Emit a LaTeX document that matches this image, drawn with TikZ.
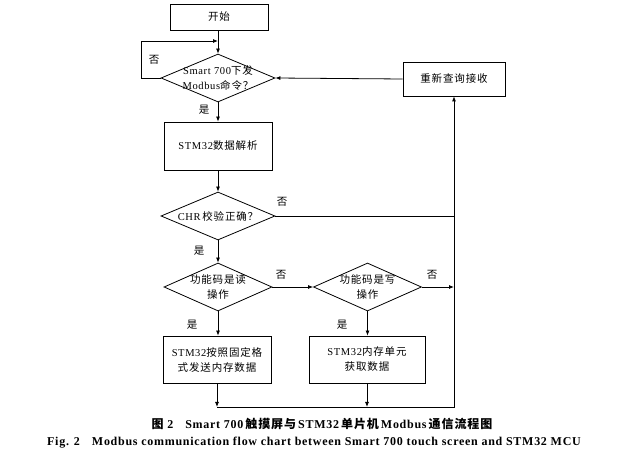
\documentclass[tikz,border=0pt]{standalone}
\usepackage{fontspec}
\setmainfont[LetterSpace=6]{Liberation Serif}
\newfontfamily\cjk[LetterSpace=8]{Noto Sans CJK SC}
\newcommand\zh[1]{{\cjk #1}}
\usetikzlibrary{shapes.geometric,arrows.meta}
\begin{document}
\begin{tikzpicture}[x=1pt,y=-1pt,
  line width=0.8pt,
  txt/.style={font=\fontsize{10.5}{15}\selectfont, align=center, inner sep=0pt},
  box/.style={draw, rectangle, inner sep=0pt, minimum width=#1, minimum height=48pt},
  dia/.style={draw, diamond, inner sep=0pt, minimum width=#1, minimum height=48pt},
  arr/.style={-{Latex[length=5pt,width=4pt]}},
  lab/.style={font=\fontsize{10.5}{12}\selectfont, inner sep=0pt}]
\useasboundingbox (0,0) rectangle (641,454);
% nodes
\node[box=98pt, minimum height=26pt] (start) at (219,17) {};
\node[txt] at (start) {\zh{开始}};
\node[dia=114pt] (d1) at (218,78) {};
\node[txt] at (d1) {Smart 700\zh{下发}\\Modbus\zh{命令？}};
\node[box=108pt] (parse) at (218,146) {};
\node[txt] at (parse) {STM32\zh{数据解析}};
\node[dia=114pt] (chr) at (218,216) {};
\node[txt] at (chr) {CHR\,\zh{校验正确？}};
\node[dia=108pt] (fa) at (218,287) {};
\node[txt] at (fa) {\zh{功能码是读}\\\zh{操作}};
\node[dia=108pt] (fb) at (367.5,287) {};
\node[txt] at (fb) {\zh{功能码是写}\\\zh{操作}};
\node[box=108pt, minimum height=47pt] (bc) at (217,359.5) {};
\node[txt] at (bc) {STM32\zh{按照固定格}\\\zh{式发送内存数据}};
\node[box=116pt, minimum height=47pt] (bd) at (367,359.5) {};
\node[txt] at (bd) {STM32\zh{内存单元}\\\zh{获取数据}};
\node[box=102pt, minimum height=34pt] (rq) at (454,79) {};
\node[txt] at (rq) {\zh{重新查询接收}};
\coordinate (j1) at (218,41);
\coordinate (m) at (454,407);
% connectors
\draw[arr] (start.south -| d1) -- (d1.north);
\draw[arr] (d1.west) -- ++(-19,0) |- (j1);
\draw[arr] (d1) -- (parse);
\draw[arr] (parse) -- (chr);
\draw (chr.east) -- (chr.east -| rq);
\draw[arr] (chr) -- (fa);
\draw[arr] (fa) -- (fb);
\draw[arr] (fb.east) -- (fb.east -| rq);
\draw[arr] (fa) -- (bc.north -| fa);
\draw[arr] (fb) -- (bd.north -| fb);
\draw[arr] (bc) -- (bc |- m);
\draw[arr] (bd) -- (bd |- m);
\draw[arr] (bc |- m) -- (m) -- (rq);
\draw[arr] (rq.west) -- (d1.east);
% labels
\node[lab] (l1) at (154,60) {\zh{否}};
\node[lab] (l2) at (204,110) {\zh{是}};
\node[lab] (l3) at (282,202) {\zh{否}};
\node[lab] (l4) at (199,251) {\zh{是}};
\node[lab] (l5) at (281,275) {\zh{否}};
\node[lab] (l6) at (432,275) {\zh{否}};
\node[lab] (l7) at (192,325) {\zh{是}};
\node[lab] (l8) at (342,325) {\zh{是}};
% captions
\node[font=\bfseries\fontsize{12}{14}\selectfont, inner sep=0pt] (cap1) at (322,424) {\zh{图}~2\quad Smart 700\,\zh{触摸屏与}\,STM32\,\zh{单片机}\,Modbus\,\zh{通信流程图}};
\node[font=\bfseries\fontsize{12}{14}\selectfont, inner sep=0pt] (cap2) at (314,443) {Fig. 2\quad Modbus communication flow chart between Smart 700 touch screen and STM32 MCU};
\end{tikzpicture}
\end{document}
